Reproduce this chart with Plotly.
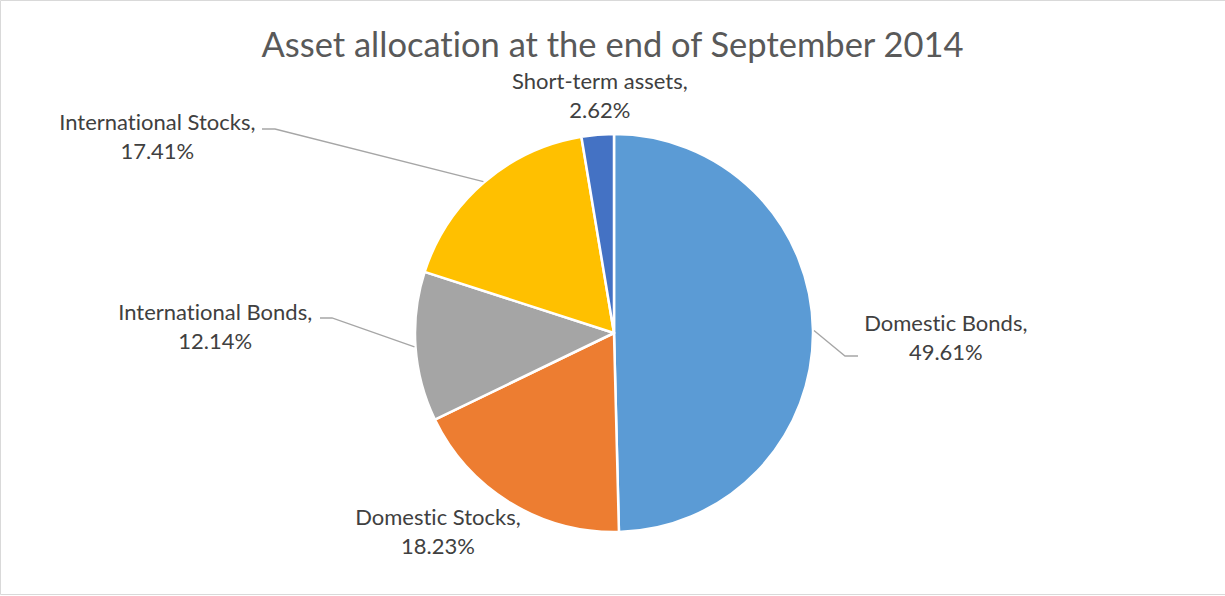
import math
import plotly.graph_objects as go

categories = ["Domestic Bonds", "Domestic Stocks", "International Bonds",
              "International Stocks", "Short-term assets"]
values = [49.61, 18.23, 12.14, 17.41, 2.62]
colors = ["#5B9BD5", "#ED7D31", "#A5A5A5", "#FFC000", "#4472C4"]
title_text = "Asset allocation at the end of September 2014"

W, H = 1225, 596
CX, CY, R = 614, 333, 199  # pie centre / radius in pixels

def px(x):
    return x / W

def py(y):
    return 1 - y / H

fig = go.Figure(go.Pie(
    labels=categories, values=values, sort=False, direction="clockwise",
    rotation=0, textinfo="none", hole=0,
    marker=dict(colors=colors, line=dict(color="white", width=2.5)),
    domain=dict(x=[px(CX - R), px(CX + R)], y=[py(CY + R), py(CY - R)]),
    showlegend=False,
))

# label positions (pixel centre of text block) and leader line elbows
label_pos = {
    "Domestic Bonds": (946, 337),
    "Domestic Stocks": (438, 531),
    "International Bonds": (215, 326),
    "International Stocks": (157, 136),
    "Short-term assets": (600, 95),
}
leader = {
    "Domestic Bonds": [(845, 356), (858, 356)],
    "International Bonds": [(332, 318), (320, 318)],
    "International Stocks": [(275, 129), (262, 129)],
}

total = sum(values)
cum = 0
annotations = []
shapes = []
for name, v in zip(categories, values):
    mid = (cum + v / 2) / total * 2 * math.pi
    cum += v
    lx, ly = label_pos[name]
    annotations.append(dict(
        x=px(lx), y=py(ly), xref="paper", yref="paper", showarrow=False,
        text=f"{name},<br>{v:.2f}%", align="center",
        font=dict(family="Lato", size=22, color="#404040"),
        xanchor="center", yanchor="middle",
    ))
    if name in leader:
        sx = CX + (R + 1) * math.sin(mid)
        sy = CY - (R + 1) * math.cos(mid)
        pts = [(sx, sy)] + leader[name]
        path = "M " + " L ".join(f"{px(a)},{py(b)}" for a, b in pts)
        shapes.append(dict(type="path", xref="paper", yref="paper", path=path,
                           line=dict(color="#A6A6A6", width=1.3)))

# chart-area border (left, top, bottom edges visible)
border = [(W, 0.5), (0.5, 0.5), (0.5, 594.5), (W, 594.5)]
shapes.append(dict(type="path", xref="paper", yref="paper",
                   path="M " + " L ".join(f"{px(a)},{py(b)}" for a, b in border),
                   line=dict(color="#D9D9D9", width=1)))

fig.update_layout(
    width=W, height=H, margin=dict(l=0, r=0, t=0, b=0),
    paper_bgcolor="white", plot_bgcolor="white",
    title=dict(text=title_text, x=0.5, xanchor="center", y=py(45), yanchor="middle",
               font=dict(family="Lato", size=34.5, color="#595959")),
    annotations=annotations, shapes=shapes,
)

post = ("document.body.style.margin='0';"
        "var s=document.createElement('style');"
        "s.textContent='text{font-variant-ligatures:none;font-feature-settings:\"liga\" 0;}';"
        "document.head.appendChild(s);")
fig.write_html("out.html", post_script=post, config={"displayModeBar": False})
